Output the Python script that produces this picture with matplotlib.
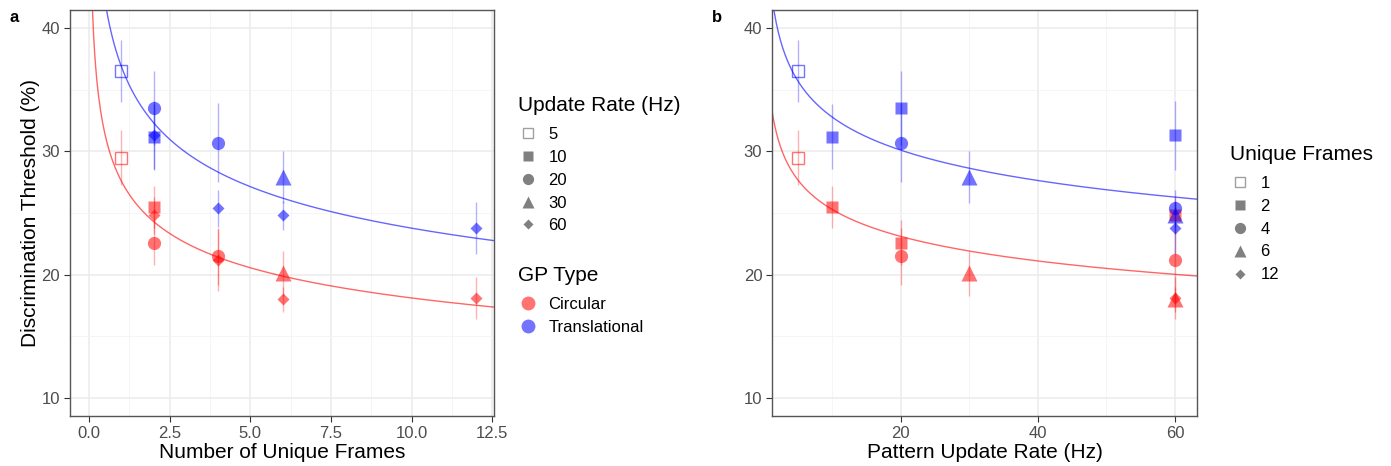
import numpy as np
import matplotlib
matplotlib.use('Agg')
import matplotlib.pyplot as plt
from matplotlib.lines import Line2D

plt.rcParams['font.family'] = ['Liberation Sans', 'DejaVu Sans']

# one row per (unique frames, update rate) condition
frames = [1, 2, 2, 2, 4, 4, 6, 6, 12]
rates = [5, 10, 20, 60, 20, 60, 30, 60, 60]
circ_thr = [29.5, 25.5, 22.6, 24.8, 21.5, 21.2, 20.1, 18.0, 18.1]
circ_err = [2.2, 1.7, 1.8, 1.5, 2.3, 2.5, 1.8, 1.0, 1.7]
trans_thr = [36.5, 31.2, 33.5, 31.3, 30.7, 25.4, 27.9, 24.8, 23.8]
trans_err = [2.5, 2.6, 3.0, 2.8, 3.2, 1.5, 2.1, 1.2, 2.1]

# power-law fits y = a * x^b
fit_frames = {'Circular': (27.6, -0.183), 'Translational': (36.9, -0.191)}
fit_rate = {'Circular': (34.1, -0.130), 'Translational': (43.5, -0.123)}

rate_levels = [5, 10, 20, 30, 60]
frame_levels = [1, 2, 4, 6, 12]
gp_types = ['Circular', 'Translational']
gp_colors = {'Circular': '#FF0000', 'Translational': '#0000FF'}
gp_data = {'Circular': (circ_thr, circ_err), 'Translational': (trans_thr, trans_err)}

# marker style per level position: (marker, size, filled)
shapes = [('s', 9, False), ('s', 8.5, True), ('o', 9.5, True), ('^', 11, True), ('D', 6.5, True)]

PT_ALPHA = 0.55


def style_axes(ax, xmaj, xmin, xlabels, xlim):
    ax.set_xlim(*xlim)
    ax.set_ylim(8.54, 41.46)
    ax.set_xticks(xmaj)
    ax.set_xticklabels(xlabels)
    ax.set_xticks(xmin, minor=True)
    ax.set_yticks([10, 20, 30, 40])
    ax.set_yticks([15, 25, 35], minor=True)
    ax.grid(which='major', color='#EBEBEB', lw=1.1, zorder=0)
    ax.grid(which='minor', color='#F4F4F4', lw=0.6, zorder=0)
    ax.set_axisbelow(True)
    for s in ax.spines.values():
        s.set_color('#555555')
        s.set_linewidth(1.0)
    ax.tick_params(which='major', length=4, color='#333333', labelsize=12,
                   labelcolor='#4D4D4D', pad=3)
    ax.tick_params(which='minor', length=0)


def draw_panel(ax, xs, keys, levels, fits, xgrid):
    for gp in gp_types:
        thr, err = gp_data[gp]
        c = gp_colors[gp]
        ax.errorbar(xs, thr, yerr=err, fmt='none', ecolor=c, alpha=0.3,
                    elinewidth=1.0, capsize=0, zorder=2)
        for x, k, y in zip(xs, keys, thr):
            m, ms, filled = shapes[levels.index(k)]
            if filled:
                ax.plot(x, y, marker=m, ms=ms, color=c, mec='none', alpha=PT_ALPHA,
                        ls='none', zorder=3)
            else:
                ax.plot(x, y, marker=m, ms=ms, mfc='none', mec=c, mew=1.0,
                        alpha=PT_ALPHA, ls='none', zorder=3)
        a, b = fits[gp]
        ax.plot(xgrid, a * xgrid ** b, color=c, lw=1.0, alpha=0.6, zorder=2)


fig = plt.figure(figsize=(13.91, 4.66), dpi=100)
ax_a = fig.add_axes([0.0503, 0.1073, 0.3048, 0.8712])
ax_b = fig.add_axes([0.555, 0.1073, 0.3055, 0.8712])

style_axes(ax_a, [0, 2.5, 5, 7.5, 10, 12.5], [1.25, 3.75, 6.25, 8.75, 11.25],
           ['0.0', '2.5', '5.0', '7.5', '10.0', '12.5'], (-0.59, 12.55))
style_axes(ax_b, [20, 40, 60], [10, 30, 50], ['20', '40', '60'], (1.2, 63.2))

draw_panel(ax_a, frames, rates, rate_levels, fit_frames, np.linspace(0.05, 12.6, 400))
draw_panel(ax_b, rates, frames, frame_levels, fit_rate, np.linspace(1.2, 63.2, 400))

ax_a.set_xlabel('Number of Unique Frames', fontsize=15, labelpad=2)
ax_a.set_ylabel('Discrimination Threshold (%)', fontsize=15, labelpad=1)
ax_b.set_xlabel('Pattern Update Rate (Hz)', fontsize=15, labelpad=2)

fig.text(10 / 1391, 1 - 18 / 466, 'a', fontsize=12, fontweight='bold', va='center')
fig.text(712 / 1391, 1 - 18 / 466, 'b', fontsize=12, fontweight='bold', va='center')


def shape_handles(levels):
    hs = []
    for i, lv in enumerate(levels):
        m, ms, filled = shapes[i]
        if filled:
            hs.append(Line2D([], [], marker=m, ms=ms * 0.85, color='#808080', mec='none', ls='none'))
        else:
            hs.append(Line2D([], [], marker=m, ms=ms * 0.85, mfc='none', mec='#A0A0A0', mew=1.0, ls='none'))
    return hs


leg_kw = dict(frameon=False, fontsize=12, title_fontsize=15, alignment='left',
              labelspacing=0.47, handletextpad=0.6, handlelength=1.2, borderpad=0)


def add_legend(handles, labels, title, x_px, y_px):
    leg = fig.legend(handles, labels, title=title, loc='upper left',
                     bbox_to_anchor=(x_px / 1391, 1 - y_px / 466), **leg_kw)
    # wider gap between the title and the keys, as in ggplot
    leg._legend_box.sep = 8.4
    return leg


add_legend(shape_handles(rate_levels), [str(r) for r in rate_levels],
           'Update Rate (Hz)', 510, 88)
gp_handles = [Line2D([], [], marker='o', ms=10, color=gp_colors[g], mec='none',
                     alpha=PT_ALPHA, ls='none') for g in gp_types]
add_legend(gp_handles, gp_types, 'GP Type', 510, 258)
add_legend(shape_handles(frame_levels), [str(f) for f in frame_levels],
           'Unique Frames', 1222, 137)

fig.savefig('out.png', dpi=100)
